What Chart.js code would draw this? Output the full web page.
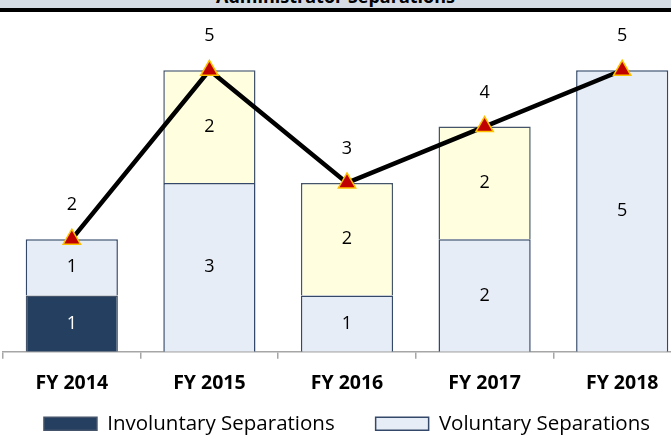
<!DOCTYPE html>
<html>
<head>
<meta charset="utf-8">
<script src="https://cdn.jsdelivr.net/npm/chart.js@4"></script>
<style>
  body { margin: 0; width: 671px; height: 439px; overflow: hidden; position: relative; background: #fff; }
  #title { position: absolute; left: 0; top: -16px; width: 671px; height: 24px; line-height: 11px;
           background: #d6dce4; border-bottom: 4px solid #000; text-align: center;
           font: bold 18px "Open Sans", sans-serif; color: #000; }
  #wrap { position: absolute; left: 0; top: 12px; width: 692px; height: 427px; }
</style>
</head>
<body>
<div id="title">Administrator Separations</div>
<div id="wrap"><canvas id="separations"></canvas></div>
<script>
var years = ['FY 2014', 'FY 2015', 'FY 2016', 'FY 2017', 'FY 2018'];
var involuntary = [1, null, null, null, null];
var voluntary = [1, 3, 1, 2, 5];
var other = [null, 2, 2, 2, null];
var totals = [2, 5, 3, 4, 5];

// draws the numbers inside the bars and above the line markers
var valueLabels = {
  id: 'valueLabels',
  afterDatasetsDraw: function (chart) {
    var ctx = chart.ctx;
    ctx.save();
    ctx.font = '18px "Open Sans", sans-serif';
    ctx.textAlign = 'center';
    ctx.textBaseline = 'middle';
    chart.data.datasets.forEach(function (ds, i) {
      var meta = chart.getDatasetMeta(i);
      meta.data.forEach(function (el, j) {
        var v = ds.data[j];
        if (v == null) return;
        if (ds.type === 'line') {
          ctx.fillStyle = '#000';
          ctx.fillText(v, el.x, el.y - 34);
        } else {
          ctx.fillStyle = ds.labelColor;
          ctx.fillText(v, el.x, (el.y + el.base) / 2);
        }
      });
    });
    ctx.restore();
  }
};

var ctx = document.getElementById('separations').getContext('2d');
var separations_chart = new Chart(ctx, {
  type: 'bar',
  data: {
    labels: years,
    datasets: [{
      label: 'Involuntary Separations',
      data: involuntary,
      backgroundColor: '#243f60',
      borderColor: '#44546a',
      borderWidth: 1.5,
      labelColor: '#fff',
      order: 1
    }, {
      label: 'Voluntary Separations',
      data: voluntary,
      backgroundColor: '#e7edf6',
      borderColor: '#34496a',
      borderWidth: 1.5,
      labelColor: '#000',
      order: 1
    }, {
      label: 'Other Separations',
      data: other,
      backgroundColor: '#ffffdf',
      borderColor: '#44546a',
      borderWidth: 1.5,
      labelColor: '#000',
      order: 1
    }, {
      type: 'line',
      label: 'Total',
      data: totals,
      stack: 'total',
      borderColor: '#000',
      borderWidth: 4.5,
      pointStyle: 'triangle',
      pointRadius: 10,
      pointHoverRadius: 10,
      pointBackgroundColor: '#c00000',
      pointBorderColor: '#ffc000',
      pointBorderWidth: 1.5,
      order: 0
    }]
  },
  options: {
    responsive: true,
    maintainAspectRatio: false,
    animation: false,
    layout: { autoPadding: false, padding: { left: 3, right: 1, top: 2, bottom: -5 } },
    datasets: { bar: { barPercentage: 0.67, categoryPercentage: 1 } },
    scales: {
      x: {
        stacked: true,
        border: { color: '#a6a6a6', width: 1.5 },
        grid: { drawOnChartArea: false, drawTicks: true, tickLength: 7, color: '#a6a6a6', lineWidth: 1.5 },
        ticks: { color: '#000', padding: 13.3, font: { family: 'Open Sans', size: 19.5, weight: 'bold' } }
      },
      y: {
        stacked: true,
        display: false,
        min: 0,
        max: 6
      }
    },
    plugins: {
      title: { display: false },
      tooltip: { enabled: false },
      legend: {
        position: 'bottom',
        labels: {
          color: '#000',
          boxWidth: 53,
          boxHeight: 13,
          padding: 4.75,
          font: { family: 'Open Sans', size: 20.5 },
          filter: function (item) { return item.datasetIndex < 2; },
          generateLabels: function (chart) {
            var items = Chart.defaults.plugins.legend.labels.generateLabels(chart);
            items.forEach(function (item) {
              // wider gap after the first entry, as in the original legend
              if (item.datasetIndex === 0) item.text = item.text + '\u2003\u2002\u2009\u200a';
            });
            return items;
          }
        }
      }
    }
  },
  plugins: [valueLabels]
});
</script>
</body>
</html>
